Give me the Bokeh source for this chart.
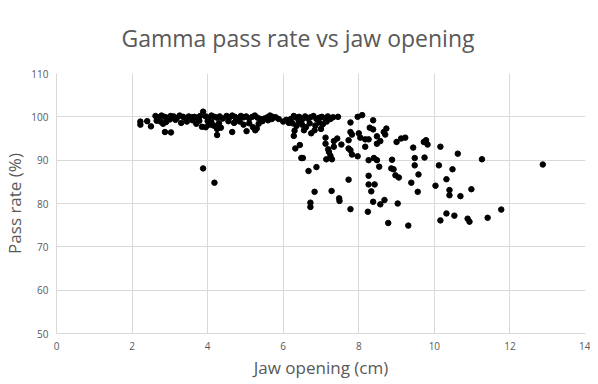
from bokeh.plotting import figure
from bokeh.models import ColumnDataSource, FixedTicker
from bokeh.embed import file_html
from bokeh.resources import INLINE

title_text = "Gamma pass rate vs jaw opening"
x_label = "Jaw opening (cm)"
y_label = "Pass rate (%)"
x_ticks = [0, 2, 4, 6, 8, 10, 12, 14]
y_ticks = [50, 60, 70, 80, 90, 100, 110]

# top band (small jaw openings)
band_x = [2.22, 2.22, 2.4, 2.5, 2.87, 3.03,
          2.62, 2.7, 2.78, 2.86, 2.95, 3.02, 3.1, 3.18, 3.26, 3.35, 3.42, 3.5, 3.58,
          2.65, 2.9, 3.15, 3.3, 3.45, 3.6, 3.7, 3.0, 2.75, 2.82,
          3.65, 3.72, 3.8, 3.88, 3.95, 4.02, 4.1, 4.18, 4.25, 4.32, 4.4,
          3.85, 3.95, 4.05, 4.1, 4.2, 4.25, 4.3, 4.35, 4.25, 4.15, 3.78, 4.0,
          4.5, 4.58, 4.65, 4.72, 4.8, 4.88, 4.95, 5.02, 5.1, 5.18, 5.25, 5.32, 5.4,
          4.55, 4.7, 4.65, 4.85, 4.95, 5.03, 5.1, 5.2, 5.26, 5.3, 5.35, 5.45, 4.75,
          5.5, 5.58, 5.65, 5.72, 5.8, 5.88, 5.6, 5.7,
          6.0, 6.08, 6.15,
          6.2, 6.28, 6.35, 6.42, 6.5, 6.58, 6.65, 6.72, 6.8, 6.88, 6.95, 7.02, 7.1, 7.18, 7.25, 7.32, 7.45,
          6.25, 6.35, 6.42, 6.5, 6.6, 6.7, 6.85, 6.95, 7.05, 7.15, 6.3, 6.55, 7.0]
band_y = [98.9, 98.2, 99.0, 97.8, 96.5, 96.4,
          100.2, 99.9, 100.3, 100.0, 99.8, 100.2, 100.1, 99.7, 100.3, 100.0, 99.6, 100.1, 99.9,
          99.1, 98.8, 99.3, 98.6, 98.9, 99.2, 98.4, 99.4, 98.9, 98.4,
          100.0, 99.8, 100.2, 101.2, 100.1, 99.7, 100.3, 100.0, 99.8, 100.1, 99.6,
          97.7, 97.6, 98.2, 98.8, 97.9, 97.2, 98.5, 97.5, 95.8, 98.0, 99.1, 99.0,
          100.2, 99.9, 100.3, 100.0, 99.7, 100.2, 99.9, 100.1, 99.6, 100.0, 100.3, 99.8, 99.5,
          99.0, 98.6, 96.5, 98.9, 98.2, 96.7, 98.5, 97.6, 96.9, 97.3, 98.4, 99.0, 99.2,
          99.6, 99.9, 100.3, 100.0, 99.9, 99.5, 99.2, 99.5,
          98.9, 99.3, 98.6,
          99.5, 100.2, 99.8, 100.0, 99.4, 100.1, 99.6, 99.9, 100.2, 99.5, 99.8, 100.0, 99.7, 100.1, 99.5, 99.9, 100.0,
          98.5, 97.9, 98.8, 98.2, 97.6, 98.5, 98.0, 98.7, 98.3, 98.9, 96.8, 96.9, 97.2]

# isolated and spread-out points
spread_x = [3.88, 4.18,
            6.28, 6.32, 6.44, 6.48, 6.52, 6.67, 6.88, 6.83, 6.72, 6.72, 6.74, 6.83,
            7.12, 7.12, 7.19, 7.21, 7.25, 7.29, 7.14, 7.34, 7.34, 7.43, 7.54, 7.28, 7.48, 7.49,
            7.73, 7.78, 7.78, 7.78, 7.82, 7.73, 7.73, 7.78, 7.82, 7.97, 7.97, 8.09, 8.0, 8.04,
            8.17, 8.26, 8.17, 8.38, 8.29, 8.38, 8.48, 8.57, 8.48, 8.66, 8.73, 8.70,
            8.26, 8.40, 8.48, 8.54, 8.26, 8.26, 8.42, 8.33, 8.24, 8.38, 8.57, 8.68, 8.78,
            8.88, 8.86, 8.92, 8.97, 9.06, 9.03, 9.0, 9.12, 9.23, 9.31, 9.39, 9.44, 9.48, 9.48,
            9.58, 9.56, 9.72, 9.78, 9.82, 9.74,
            10.03, 10.12, 10.16, 10.16, 10.32, 10.32, 10.4, 10.4, 10.48, 10.53, 10.62, 10.69,
            10.88, 10.93, 10.98, 11.26, 11.41, 11.77, 12.87]
spread_y = [88.1, 84.8,
            95.6, 92.7, 93.5, 90.5, 90.5, 87.5, 88.4, 82.7, 80.2, 79.2, 96.2, 96.9,
            95.2, 93.8, 92.5, 91.9, 91.0, 90.2, 90.2, 94.4, 93.1, 95.0, 93.6, 82.9, 81.2, 80.6,
            85.5, 78.7, 98.7, 96.5, 95.9, 94.6, 92.7, 92.3, 91.3, 90.9, 100.0, 100.4, 96.2, 95.2,
            94.8, 94.8, 93.1, 99.2, 97.5, 97.1, 95.5, 94.4, 93.8, 96.5, 97.3, 95.9,
            90.0, 90.5, 90.0, 88.5, 86.4, 84.4, 84.4, 82.8, 78.1, 80.4, 79.8, 80.8, 75.5,
            90.1, 88.1, 87.9, 86.5, 86.0, 80.0, 94.2, 95.0, 95.2, 74.9, 84.8, 92.9, 90.5, 88.8,
            86.7, 82.7, 94.2, 94.6, 93.6, 90.6,
            84.1, 88.8, 93.1, 76.1, 77.7, 85.6, 83.1, 81.9, 87.9, 77.2, 91.5, 81.7,
            76.5, 75.8, 83.3, 90.2, 76.7, 78.6, 89.0]

xs = band_x + spread_x
ys = band_y + spread_y
source = ColumnDataSource(data=dict(x=xs, y=ys))

FONT = "Open Sans"
GRAY = "#595959"
GRID = "#d9d9d9"

p = figure(frame_width=529, frame_height=260, output_backend="svg", toolbar_location=None,
           x_range=(0, 14), y_range=(50, 110),
           min_border_left=0, min_border_right=5, min_border_top=0, min_border_bottom=0)

p.scatter("x", "y", source=source, size=5.5, fill_color="black", line_color="black")

p.title.text = title_text
p.title.align = "left"
p.title.text_font = FONT
p.title.text_font_style = "normal"
p.title.text_font_size = "23px"
p.title.text_color = GRAY
p.title.standoff = 39
p.title.offset = 65

p.xaxis.ticker = FixedTicker(ticks=x_ticks)
p.yaxis.ticker = FixedTicker(ticks=y_ticks)
for ax in (p.xaxis[0], p.yaxis[0]):
    ax.major_tick_line_color = None
    ax.minor_tick_line_color = None
    ax.major_tick_in = 0
    ax.major_tick_out = 0
    ax.minor_tick_in = 0
    ax.minor_tick_out = 0
    ax.axis_line_color = GRID
    ax.major_label_text_font = FONT
    ax.major_label_text_font_size = "10px"
    ax.major_label_text_color = GRAY
    ax.axis_label_text_font = FONT
    ax.axis_label_text_font_size = "17px"
    ax.axis_label_text_font_style = "normal"
    ax.axis_label_text_color = GRAY

p.xaxis.axis_label = x_label
p.yaxis.axis_label = y_label
p.xaxis.major_label_standoff = 8
p.yaxis.major_label_standoff = 8
p.xaxis.axis_label_standoff = 3
p.yaxis.axis_label_standoff = 2

p.xgrid.grid_line_color = GRID
p.ygrid.grid_line_color = GRID
p.outline_line_color = None
p.background_fill_color = "white"
p.border_fill_color = "white"

open("out.html", "w").write(file_html(p, INLINE))
